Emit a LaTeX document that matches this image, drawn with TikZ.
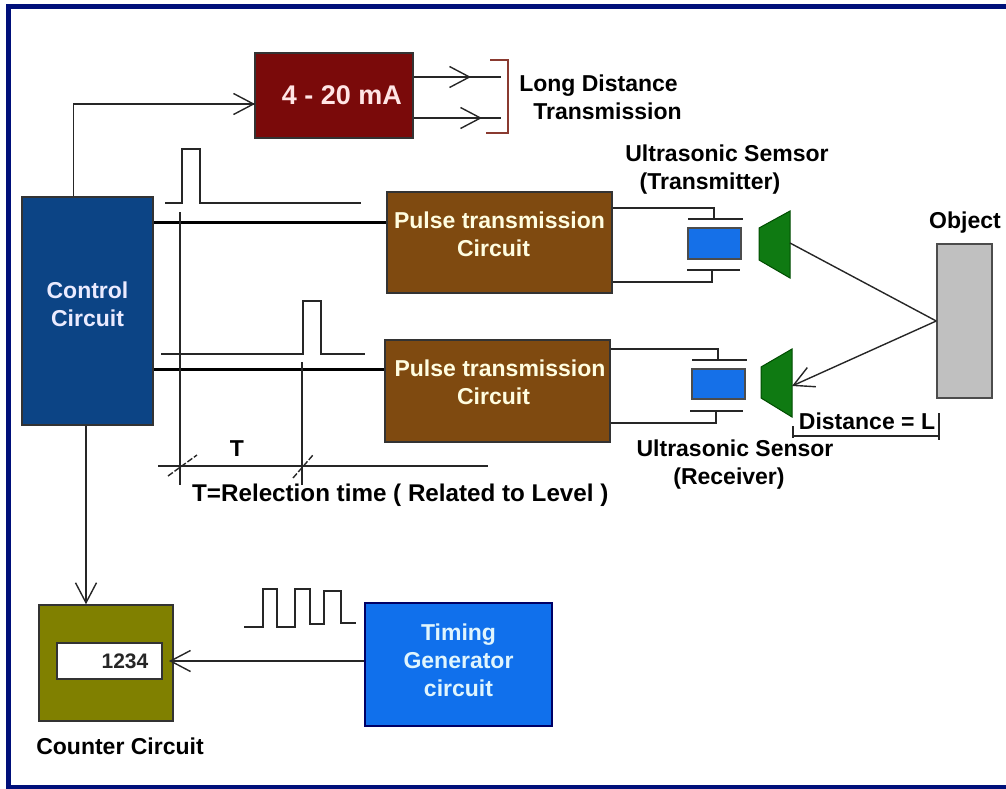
\documentclass[tikz,border=0pt]{standalone}
\usepackage{fontspec}
\setmainfont{Liberation Sans}
\usetikzlibrary{arrows.meta}
\definecolor{framecol}{HTML}{00107A}
\definecolor{currentcol}{HTML}{7A0A0A}
\definecolor{bracketcol}{HTML}{8A3A30}
\definecolor{controlcol}{HTML}{0C4485}
\definecolor{pulsecol}{HTML}{7F4A10}
\definecolor{sensorcol}{HTML}{1570E8}
\definecolor{horncol}{HTML}{0F7A12}
\definecolor{objectcol}{HTML}{C0C0C0}
\definecolor{countercol}{HTML}{808000}
\definecolor{timingcol}{HTML}{1070EC}
\tikzset{
  every node/.style={font=\bfseries\fontsize{23}{28}\selectfont, inner sep=0pt, align=center},
  wire/.style={line width=1.4pt, black!85},
  barb/.style={wire, -{Straight Barb[length=20pt, width=21pt]}},
  sigline/.style={line width=3pt, black},
  blockbox/.style={draw=black!80, line width=1.5pt}
}
\begin{document}
\begin{tikzpicture}[x=1pt, y=-1pt]
    \useasboundingbox (0,0) rectangle (1006,789);

    % Draw the outer frame
    \draw[framecol, line width=4.5pt] (1006,6.5) -- (8.5,6.5) -- (8.5,787) -- (1006,787);

    % Draw the boxes
    \node[blockbox, fill=currentcol, text=white!90!red, minimum width=158pt, minimum height=85pt, font=\bfseries\fontsize{27}{32}\selectfont] (current) at (334,95.5) {\hspace*{16pt}4 - 20 mA};
    \node[blockbox, fill=controlcol, text=white!92!blue, minimum width=131pt, minimum height=228pt, text depth=14pt] (control) at (87.5,311) {Control\\Circuit};
    \node[blockbox, fill=pulsecol, text=yellow!12, minimum width=225pt, minimum height=101pt, text depth=16pt] (pulsetx) at (499.5,242.5) {Pulse transmission\\Circuit\hspace*{12pt}};
    \node[blockbox, fill=pulsecol, text=yellow!12, minimum width=225pt, minimum height=102pt, text depth=18pt] (pulserx) at (497.5,391) {\hspace*{5pt}Pulse transmission\\Circuit\hspace*{8pt}};
    \node[blockbox, fill=countercol, minimum width=134pt, minimum height=116pt] (counter) at (106,663) {};
    \node[blockbox, fill=white, minimum width=105pt, minimum height=36pt, font=\bfseries\fontsize{21}{25}\selectfont, text=black!85] (display) at (109.5,661) {\hspace*{31pt}1234};
    \node[draw=black!60!blue, line width=1.5pt, fill=timingcol, text=cyan!12, minimum width=187pt, minimum height=123pt, text depth=9pt] (timing) at (458.5,664.5) {Timing\\Generator\\circuit};
    \node[draw=black!70, line width=1.5pt, fill=objectcol, minimum width=55pt, minimum height=154pt] (object) at (964.5,321) {};

    % Draw the 4-20 mA outputs and their bracket
    \coordinate (currentin) at (255,104);
    \coordinate (linka) at (501,77);
    \coordinate (linkb) at (501,118);
    \draw[wire] (control.north -| 73.5,0) |- (currentin);
    \draw[barb] (235,104) -- (currentin);
    \draw[wire] (current.east |- linka) -- (linka);
    \draw[wire] (current.east |- linkb) -- (linkb);
    \draw[barb] (450,77) -- (471,77);
    \draw[barb] (461,118) -- (482,118);
    \draw[bracketcol, line width=1.4pt] (490,60) -- (508,60) -- (508,133) -- (486,133);
    \node (linklabel) at (603,97) {\hspace*{-9pt}Long Distance\\\hspace*{9pt}Transmission};

    % Draw the pulses above the signal lines
    \draw[wire] (165,203) -- (182,203) -- (182,149) -- (200,149) -- (200,203) -- (361,203);
    \draw[wire] (161,354) -- (303,354) -- (303,301) -- (321,301) -- (321,354) -- (365,354);

    % Draw the signal lines
    \coordinate (txin) at (pulsetx.west |- 0,222);
    \coordinate (rxin) at (pulserx.west |- 0,369);
    \draw[sigline] (control.east |- txin) -- (txin);
    \draw[sigline] (control.east |- rxin) -- (rxin);

    % Draw the time measurement
    \coordinate (markaup) at (180,212);
    \coordinate (markbup) at (302,362);
    \coordinate (timeleft) at (158,466);
    \coordinate (timeright) at (488,466);
    \draw[wire] (markaup) -- (180,485);
    \draw[wire] (markbup) -- (302,485);
    \draw[wire] (timeleft) -- (timeright);
    \draw[wire, dash pattern=on 6pt off 2pt] (168,476) -- (197,455);
    \draw[wire, dash pattern=on 6pt off 2pt] (293,478) -- (313,455);
    \node (tlabel) at (237,449) {T};
    \node[anchor=west, font=\bfseries\fontsize{24.2}{28}\selectfont] (tnote) at (192,495) {T=Relection time ( Related to Level )};

    % Draw the transmitter
    \node[draw=black!70, line width=1.5pt, fill=sensorcol, minimum width=53pt, minimum height=31pt] (crystaltx) at (714.5,243.5) {};
    \coordinate (platetxa) at (714,219);
    \coordinate (platetxb) at (712,270);
    \draw[wire] (688,219) -- (743,219);
    \draw[wire] (687,270) -- (740,270);
    \draw[wire] (pulsetx.east |- 0,208) -| (platetxa);
    \draw[wire] (pulsetx.east |- 0,282) -| (platetxb);
    \draw[black!70!green, line width=1pt, fill=horncol] (759,228) -- (790,211) -- (790,278) -- (759,260) -- cycle;
    \coordinate (horntx) at (790,243);
    \node (txlabel) at (727,170) {Ultrasonic Semsor\\\hspace*{-34pt}(Transmitter)};

    % Draw the receiver
    \node[draw=black!70, line width=1.5pt, fill=sensorcol, minimum width=53pt, minimum height=30pt] (crystalrx) at (718.5,384) {};
    \coordinate (platerxa) at (718,360);
    \coordinate (platerxb) at (716,411);
    \draw[wire] (692,360) -- (747,360);
    \draw[wire] (690,411) -- (743,411);
    \draw[wire] (pulserx.east |- 0,349) -| (platerxa);
    \draw[wire] (pulserx.east |- 0,423) -| (platerxb);
    \draw[black!70!green, line width=1pt, fill=horncol] (761,367) -- (792,349) -- (792,417) -- (761,398) -- cycle;
    \coordinate (hornrx) at (792,386);
    \node (rxlabel) at (735,465) {Ultrasonic Sensor\\\hspace*{-12pt}(Receiver)};

    % Draw the beam and the object
    \coordinate (hit) at (object.west);
    \draw[wire] (horntx) -- (hit);
    \draw[barb] (hit) -- (hornrx);
    \node (objectlabel) at (965,223) {Object};

    % Draw the distance
    \coordinate (disleft) at (793,436);
    \coordinate (disright) at (939,436);
    \draw[wire] (disleft) -- (disright);
    \draw[wire] (793,426) -- (793,438);
    \draw[wire] (939,413) -- (939,440);
    \node (distlabel) at (867,421) {Distance = L};

    % Draw the counter connections
    \draw[barb] (control.south -| 86,0) -- (counter.north -| 86,0);
    \draw[barb] (timing.west |- display) -- (display.east -| 169,0);
    \node (counterlabel) at (120,746) {Counter Circuit};

    % Draw the clock signal
    \draw[wire] (244,627) -- (263,627) -- (263,589) -- (277,589) -- (277,627) -- (295,627) -- (295,589) -- (310,589) -- (310,624) -- (324,624) -- (324,591) -- (341,591) -- (341,623) -- (356,623);
\end{tikzpicture}
\end{document}
